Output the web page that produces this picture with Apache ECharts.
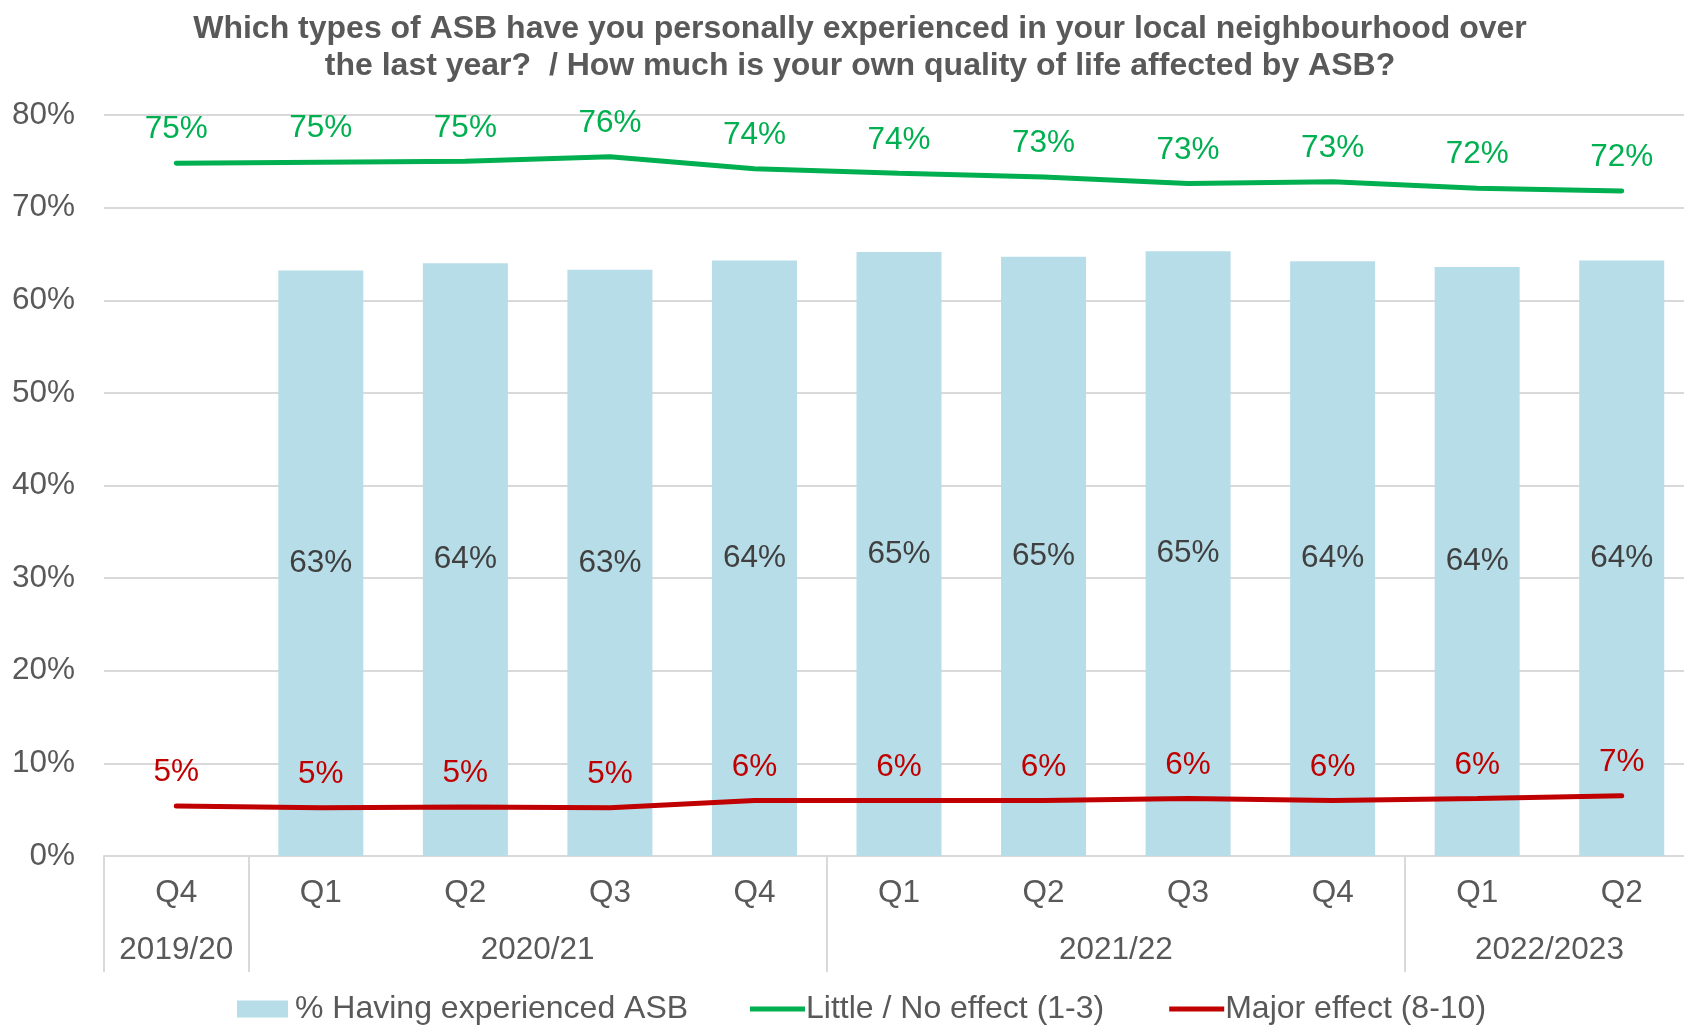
<!DOCTYPE html>
<html>
<head>
<meta charset="utf-8">
<script src="https://cdn.jsdelivr.net/npm/echarts@6/dist/echarts.min.js"></script>
<style>
html,body{margin:0;padding:0;background:#fff;}
#chart{width:1684px;height:1025px;}
</style>
</head>
<body>
<div id="chart"></div>
<script type="text/javascript">
// quarters along the bottom, grouped by financial year
var quarters = ['Q4','Q1','Q2','Q3','Q4','Q1','Q2','Q3','Q4','Q1','Q2'];
var years = ['2019/20','2020/21','2021/22','2022/2023'];
var yearSpans = [1,4,4,2]; // number of quarters in each year group

var experiencedASB = [null,63.2,64.0,63.3,64.3,65.2,64.7,65.3,64.2,63.6,64.3];
var littleNoEffect = [74.8,74.9,75.0,75.5,74.2,73.7,73.3,72.6,72.8,72.1,71.8];
var majorEffect = [5.4,5.2,5.3,5.2,6.0,6.0,6.0,6.2,6.0,6.2,6.5];

var yTicks = [0,10,20,30,40,50,60,70,80];

var titleText = 'Which types of ASB have you personally experienced in your local neighbourhood over\nthe last year?  / How much is your own quality of life affected by ASB?';

var textColor = '#595959';
var fontFamily = '"Liberation Sans", Arial, sans-serif';
var fs = 31.5;

// second x axis: 2 points per quarter (+1), so the year labels and separators land on half steps
var yearAxisData = [];
var sepIdx = [0];
var labelIdx = [];
var pos = 0;
for (var i = 0; i <= quarters.length * 2; i++) yearAxisData.push('');
for (var j = 0; j < years.length; j++) {
	var mid = pos * 2 + yearSpans[j];
	yearAxisData[mid] = years[j];
	labelIdx.push(mid);
	pos += yearSpans[j];
	sepIdx.push(pos * 2);
}

function pct(p) { return Math.round(p.value) + '%'; }

var myChart = echarts.init(document.getElementById('chart'));
myChart.setOption({
	animation: false,
	textStyle: { fontFamily: fontFamily },
	// title drawn as graphic text so both lines are centred
	graphic: [{
		type: 'text',
		x: 860,
		y: 10,
		style: {
			text: titleText,
			fill: textColor,
			font: 'bold 32px ' + fontFamily,
			lineHeight: 37.6,
			align: 'center',
			verticalAlign: 'top'
		}
	}],
	legend: [
		{
			left: 237,
			top: 993,
			padding: 0,
			itemWidth: 51,
			itemHeight: 17,
			textStyle: { color: textColor, fontSize: 32, padding: [0, 0, 0, 2] },
			data: [{ name: '% Having experienced ASB', icon: 'rect' }]
		},
		{
			left: 750,
			top: 993,
			padding: 0,
			itemWidth: 55,
			itemHeight: 5,
			itemGap: 65,
			textStyle: { color: textColor, fontSize: 32, padding: [0, 0, 0, -4] },
			data: [
				{ name: 'Little / No effect (1-3)', icon: 'rect' },
				{ name: 'Major effect (8-10)', icon: 'rect' }
			]
		}
	],
	grid: {
		left: 104,
		top: 115,
		width: 1590,
		height: 741,
		outerBoundsMode: 'none',
		containLabel: false
	},
	xAxis: [
		{
			type: 'category',
			data: quarters,
			position: 'bottom',
			axisLine: { show: true, lineStyle: { color: '#d9d9d9', width: 2 } },
			axisTick: { show: false },
			axisLabel: { color: textColor, fontSize: fs, margin: 21, interval: 0 }
		},
		{
			type: 'category',
			data: yearAxisData,
			position: 'bottom',
			boundaryGap: false,
			axisLine: { show: false },
			axisTick: {
				show: true,
				length: 116,
				interval: function (idx) { return sepIdx.indexOf(idx) >= 0; },
				lineStyle: { color: '#d9d9d9', width: 2 }
			},
			axisLabel: {
				color: textColor,
				fontSize: fs,
				margin: 78,
				interval: function (idx) { return labelIdx.indexOf(idx) >= 0; }
			}
		}
	],
	yAxis: {
		type: 'value',
		min: 0,
		max: 80,
		interval: 10,
		axisLine: { show: false },
		axisTick: { show: false },
		splitLine: { lineStyle: { color: '#d9d9d9', width: 2 } },
		axisLabel: {
			color: textColor,
			fontSize: fs,
			margin: 29,
			formatter: function (v) { return yTicks.indexOf(v) >= 0 ? v + '%' : ''; }
		}
	},
	series: [
		{
			name: '% Having experienced ASB',
			type: 'bar',
			data: experiencedASB,
			barWidth: 85,
			itemStyle: { color: '#b7dde8' },
			label: {
				show: true,
				position: 'inside',
				color: '#404040',
				fontSize: fs,
				formatter: pct
			},
			z: 1
		},
		{
			name: 'Little / No effect (1-3)',
			type: 'line',
			data: littleNoEffect,
			symbol: 'circle',
			symbolSize: 1,
			showSymbol: true,
			lineStyle: { color: '#00b050', width: 5, cap: 'round' },
			itemStyle: { color: '#00b050' },
			label: {
				show: true,
				position: 'top',
				distance: 17,
				color: '#00b050',
				fontSize: fs,
				formatter: pct
			},
			z: 3
		},
		{
			name: 'Major effect (8-10)',
			type: 'line',
			data: majorEffect,
			symbol: 'circle',
			symbolSize: 1,
			showSymbol: true,
			lineStyle: { color: '#c00000', width: 5, cap: 'round' },
			itemStyle: { color: '#c00000' },
			label: {
				show: true,
				position: 'top',
				distance: 17,
				color: '#c00000',
				fontSize: fs,
				formatter: pct
			},
			z: 3
		}
	]
});
</script>
</body>
</html>
